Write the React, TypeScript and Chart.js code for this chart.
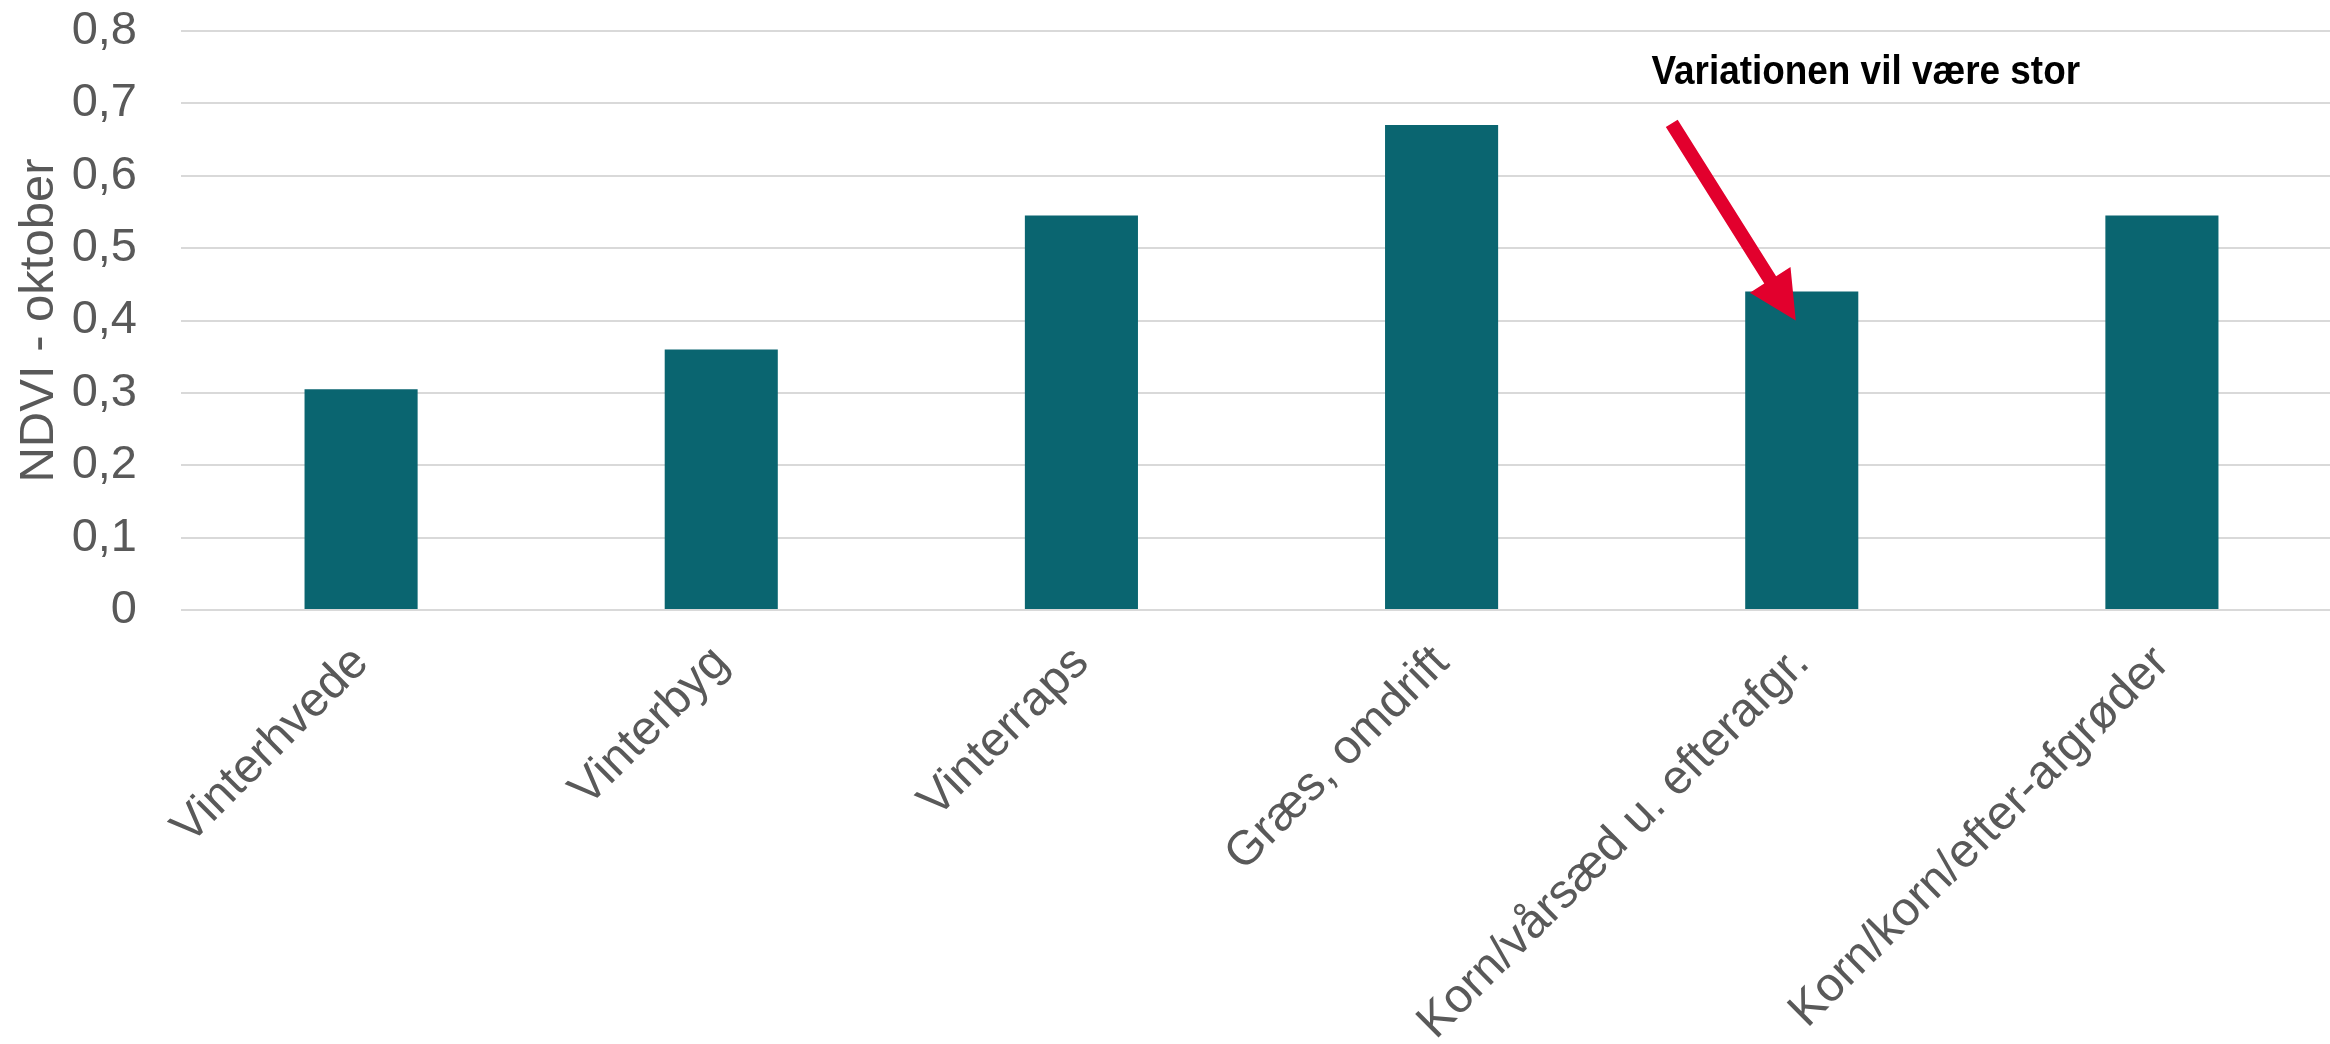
import React, { useEffect, useRef } from "react";
import { Chart, registerables } from "chart.js";

Chart.register(...registerables);

const categories: string[] = [
  "Vinterhvede",
  "Vinterbyg",
  "Vinterraps",
  "Græs, omdrift",
  "Korn/vårsæd u. efterafgr.",
  "Korn/korn/efter-afgrøder",
];
const ndviValues: number[] = [0.305, 0.36, 0.545, 0.67, 0.44, 0.545];
const yTicks: number[] = [0, 0.1, 0.2, 0.3, 0.4, 0.5, 0.6, 0.7, 0.8];
const yAxisTitle = "NDVI - oktober";
const annotationText = "Variationen vil være stor";
const annotationCategoryIndex = 4;
const annotationTipValue = 0.4;
const annotationTailValue = 0.7;
const annotationTextValue = 0.727;

const FONT = "'Liberation Sans', Arial, sans-serif";
const GRAY = "#595959";
const BAR = "#0A6570";
const RED = "#E2002D";

const arrowPlugin = {
  id: "arrowAnnotation",
  afterDatasetsDraw(chart: any) {
    const { ctx, scales } = chart;
    const x = scales.x;
    const y = scales.y;
    const center = x.getPixelForValue(annotationCategoryIndex);
    const tipX = center - 6;
    const tipY = y.getPixelForValue(annotationTipValue);
    const tailX = tipX - 124;
    const tailY = y.getPixelForValue(annotationTailValue) + 20;

    const dx = tipX - tailX;
    const dy = tipY - tailY;
    const len = Math.sqrt(dx * dx + dy * dy);
    const ux = dx / len;
    const uy = dy / len;
    const px = -uy;
    const py = ux;
    const shaftW = 14;
    const headW = 48;
    const headL = 48;
    const bx = tipX - ux * headL;
    const by = tipY - uy * headL;

    ctx.save();
    ctx.fillStyle = RED;
    ctx.beginPath();
    ctx.moveTo(tailX + (px * shaftW) / 2, tailY + (py * shaftW) / 2);
    ctx.lineTo(bx + (px * shaftW) / 2, by + (py * shaftW) / 2);
    ctx.lineTo(bx + (px * headW) / 2, by + (py * headW) / 2);
    ctx.lineTo(tipX, tipY);
    ctx.lineTo(bx - (px * headW) / 2, by - (py * headW) / 2);
    ctx.lineTo(bx - (px * shaftW) / 2, by - (py * shaftW) / 2);
    ctx.lineTo(tailX - (px * shaftW) / 2, tailY - (py * shaftW) / 2);
    ctx.closePath();
    ctx.fill();

    // annotation text (condensed bold)
    const textX = center + 64;
    const textY = y.getPixelForValue(annotationTextValue);
    ctx.fillStyle = "#000000";
    ctx.font = "bold 41px 'Liberation Sans', Arial, sans-serif";
    ctx.textAlign = "center";
    ctx.textBaseline = "alphabetic";
    ctx.translate(textX, textY);
    ctx.scale(0.9, 1);
    ctx.fillText(annotationText, 0, 0);
    ctx.restore();
  },
};

export default function App() {
  const canvasRef = useRef<HTMLCanvasElement | null>(null);

  useEffect(() => {
    document.body.style.margin = "0";
    const canvas = canvasRef.current;
    if (!canvas) return;
    const chart = new Chart(canvas, {
      type: "bar",
      data: {
        labels: categories,
        datasets: [
          {
            label: yAxisTitle,
            data: ndviValues,
            backgroundColor: BAR,
            borderWidth: 0,
            categoryPercentage: 1,
            barPercentage: 0.314,
          },
        ],
      },
      options: {
        animation: false,
        responsive: false,
        devicePixelRatio: 1,
        layout: { padding: { top: 31, left: 0, right: 0, bottom: 0 } },
        plugins: {
          legend: { display: false },
          tooltip: { enabled: false },
          title: { display: false },
        },
        scales: {
          x: {
            afterFit: (scale: any) => {
              scale.height = 434;
            },
            grid: { display: false, drawTicks: false },
            border: { display: false },
            ticks: {
              autoSkip: false,
              minRotation: 45,
              maxRotation: 45,
              padding: 25,
              color: GRAY,
              font: { family: FONT, size: 48 },
            },
          },
          y: {
            min: 0,
            max: 0.8,
            afterBuildTicks: (scale: any) => {
              scale.ticks = yTicks.map((v) => ({ value: v }));
            },
            afterFit: (scale: any) => {
              scale.width = 181;
            },
            grid: {
              color: "#D9D9D9",
              lineWidth: 2,
              drawTicks: true,
              tickLength: 44,
              tickColor: "rgba(0,0,0,0)",
            },
            border: { display: false },
            ticks: {
              padding: 0,
              color: GRAY,
              font: { family: FONT, size: 47 },
              callback: (v: any) => (Number(v) === 0 ? "0" : Number(v).toFixed(1).replace(".", ",")),
            },
            title: {
              display: true,
              text: yAxisTitle,
              color: GRAY,
              padding: { top: 10, bottom: 0 },
              font: { family: FONT, size: 49 },
            },
          },
        },
      },
      plugins: [arrowPlugin],
    });
    return () => chart.destroy();
  }, []);

  return (
    <div style={{ width: 2330, height: 1044, overflow: "hidden", background: "#ffffff" }}>
      <canvas ref={canvasRef} width={2342} height={1044} style={{ width: 2342, height: 1044, display: "block" }} />
    </div>
  );
}
